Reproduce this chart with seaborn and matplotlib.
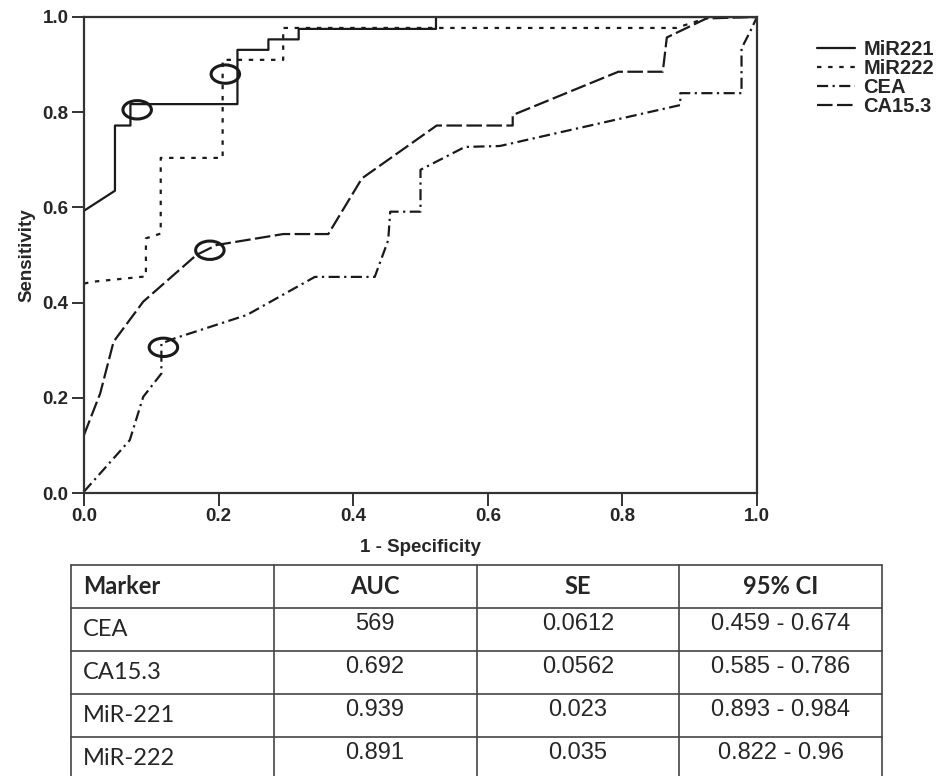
import numpy as np
import pandas as pd
import matplotlib
matplotlib.use("Agg")
import matplotlib.pyplot as plt
import seaborn as sns
from matplotlib.path import Path
from matplotlib.markers import MarkerStyle

# ROC curves (1 - specificity, sensitivity)
mir221_fpr = [0, 0.046, 0.046, 0.069, 0.069, 0.228, 0.228, 0.274, 0.274, 0.319, 0.319, 0.523, 0.523, 1.0]
mir221_tpr = [0.593, 0.635, 0.772, 0.772, 0.817, 0.817, 0.931, 0.931, 0.953, 0.953, 0.975, 0.975, 1.0, 1.0]

mir222_fpr = [0, 0.014, 0.092, 0.092, 0.114, 0.114, 0.206, 0.206, 0.296, 0.296, 0.88, 0.93, 1.0]
mir222_tpr = [0.44, 0.444, 0.455, 0.535, 0.545, 0.704, 0.704, 0.91, 0.91, 0.977, 0.977, 1.0, 1.0]

cea_fpr = [0, 0.068, 0.088, 0.115, 0.115, 0.135, 0.242, 0.343, 0.432, 0.452, 0.455, 0.5, 0.5,
           0.566, 0.618, 0.886, 0.886, 0.977, 0.977, 0.99, 1.0]
cea_tpr = [0.003, 0.111, 0.202, 0.251, 0.314, 0.325, 0.374, 0.454, 0.454, 0.531, 0.591, 0.591, 0.679,
           0.727, 0.729, 0.815, 0.84, 0.84, 0.934, 0.97, 1.0]

ca153_fpr = [0, 0.024, 0.044, 0.088, 0.167, 0.197, 0.296, 0.363, 0.413, 0.524, 0.637, 0.637,
             0.794, 0.86, 0.866, 0.925, 1.0]
ca153_tpr = [0.122, 0.209, 0.318, 0.402, 0.5, 0.521, 0.544, 0.544, 0.661, 0.772, 0.772, 0.794,
             0.885, 0.885, 0.957, 0.997, 1.0]

# optimal cut-off points (circled)
cut_names = ["MiR221", "MiR222", "CA15.3", "CEA"]
cut_fpr = [0.079, 0.21, 0.187, 0.118]
cut_tpr = [0.805, 0.88, 0.51, 0.306]

# table values
tab_header = ["Marker", "AUC", "SE", "95% CI"]
tab_marker = ["CEA", "CA15.3", "MiR-221", "MiR-222"]
tab_auc = ["569", "0.692", "0.939", "0.891"]
tab_se = ["0.0612", "0.0562", "0.023", "0.035"]
tab_ci = ["0.459 - 0.674", "0.585 - 0.786", "0.893 - 0.984", "0.822 - 0.96"]

series = {
    "MiR221": (mir221_fpr, mir221_tpr),
    "MiR222": (mir222_fpr, mir222_tpr),
    "CEA": (cea_fpr, cea_tpr),
    "CA15.3": (ca153_fpr, ca153_tpr),
}
frames = []
for name, (fx, fy) in series.items():
    frames.append(pd.DataFrame({"fpr": fx, "tpr": fy, "Marker": name}))
df = pd.concat(frames, ignore_index=True)

sns.set_style("white")
plt.rcParams["font.family"] = ["Liberation Sans", "DejaVu Sans"]

W, H = 939, 776
fig = plt.figure(figsize=(W / 100, H / 100), dpi=100)

def px_rect(x0, y0, x1, y1):
    return [x0 / W, 1 - y1 / H, (x1 - x0) / W, (y1 - y0) / H]

ax = fig.add_axes(px_rect(84, 17, 757, 493))

ink = "#1a1a1a"
order = ["MiR221", "MiR222", "CEA", "CA15.3"]
dashes = {"MiR221": "", "MiR222": (2, 3), "CEA": (5, 2, 1, 2), "CA15.3": (7, 2)}
sns.lineplot(data=df, x="fpr", y="tpr", style="Marker", style_order=order, dashes=dashes,
             color=ink, linewidth=1.6, estimator=None, sort=False, ax=ax)

# ellipse-shaped marker for the cut-off circles
circ = Path.unit_circle()
ell = Path(circ.vertices * np.array([1.55, 1.0]), circ.codes)
sns.scatterplot(x=cut_fpr, y=cut_tpr, marker=MarkerStyle(ell), s=420, facecolor="none",
                edgecolor=ink, linewidth=2.2, ax=ax, legend=False, zorder=5)

ax.set_xlim(0, 1)
ax.set_ylim(0, 1)
ticks = [0.0, 0.2, 0.4, 0.6, 0.8, 1.0]
ax.set_xticks(ticks)
ax.set_yticks(ticks)
ax.set_xticklabels([f"{t:.1f}" for t in ticks], fontweight="bold", fontsize=13.5)
ax.set_yticklabels([f"{t:.1f}" for t in ticks], fontweight="bold", fontsize=13.5)
ax.tick_params(direction="out", length=9, width=1.4, color="#333333", pad=2, bottom=True, left=True)
for sp in ax.spines.values():
    sp.set_color("#333333")
    sp.set_linewidth(1.6)

lab_font = ["Liberation Sans Narrow", "Liberation Sans"]
ax.set_xlabel("1 - Specificity", fontsize=13.5, fontweight="bold", family=lab_font, labelpad=10)
ax.set_ylabel("Sensitivity", fontsize=13.5, fontweight="bold", family=lab_font, labelpad=5)

handles, labels = ax.get_legend_handles_labels()
ax.legend(handles, labels, loc="upper left", bbox_to_anchor=(817 / W, 1 - 40 / H),
          bbox_transform=fig.transFigure, frameon=False, borderpad=0, borderaxespad=0,
          handlelength=1.9, handletextpad=0.4, labelspacing=0.0,
          prop={"weight": "bold", "size": 14.5})

# summary table under the plot
tax = fig.add_axes(px_rect(71, 565, 882, 780))
tax.set_xlim(0, 4)
tax.set_ylim(5, 0)
tax.axis("off")
grid_c = "#444444"
for r in range(6):
    tax.plot([0, 4], [r, r], color=grid_c, lw=1.2, clip_on=False)
for c in range(5):
    tax.plot([c, c], [0, 5], color=grid_c, lw=1.2, clip_on=False)

cal = ["Lato", "DejaVu Sans"]
tax.text(0.06, 0.5, tab_header[0], ha="left", va="center", fontsize=17, fontweight="bold", family=cal)
for c in range(1, 4):
    tax.text(c + 0.5, 0.5, tab_header[c], ha="center", va="center", fontsize=17,
             fontweight="bold", family=cal)
for i in range(4):
    r = i + 1.5
    tax.text(0.06, r, tab_marker[i], ha="left", va="center", fontsize=17, family=cal)
    for c, vals in enumerate([tab_auc, tab_se, tab_ci], start=1):
        tax.text(c + 0.5, r - 0.12, vals[i], ha="center", va="center", fontsize=17,
                 family=["Liberation Sans", "DejaVu Sans"])

fig.savefig("out.png", dpi=100)
